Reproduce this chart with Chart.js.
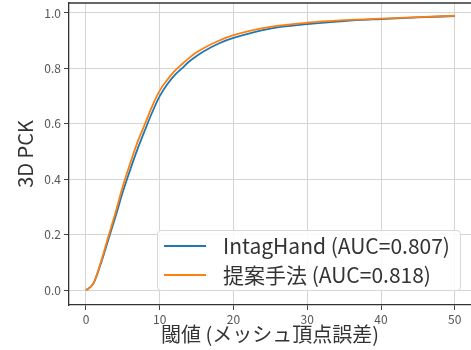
<!DOCTYPE html>
<html>
<head>
<meta charset="utf-8">
<script src="https://cdn.jsdelivr.net/npm/chart.js@4/dist/chart.umd.min.js"></script>
<style>
  html, body { margin: 0; padding: 0; background: #fff; }
  #wrap { position: relative; width: 471px; height: 350px; }
  #legend {
    position: absolute; left: 157px; top: 230px; width: 304px; height: 61px;
    box-sizing: border-box; border: 1px solid #d8d8d8; border-radius: 4px;
    background: rgba(255,255,255,0.85);
    font-family: "Noto Sans CJK JP", "Noto Sans", sans-serif; font-size: 21px; color: #333;
  }
  .row { position: absolute; left: 0; height: 28px; line-height: 28px; white-space: nowrap; }
  .swatch { position: absolute; left: 6px; top: 13px; width: 42px; height: 2px; }
  .label { position: absolute; left: 65px; top: -1px; }
</style>
</head>
<body>
<div id="wrap">
  <canvas id="pckChart" width="471" height="350"></canvas>
  <div id="legend"></div>
</div>
<script>
// x values (threshold) and PCK readings for each method
const thresholds = [0, 1, 2, 3, 4, 5, 6, 7, 8, 9, 10, 11, 12, 13, 14, 15, 16, 18, 20, 25, 30, 35, 40, 45, 50];
const intagHandPck = [0, 0.024, 0.095, 0.18, 0.265, 0.355, 0.435, 0.51, 0.578, 0.643, 0.70, 0.742, 0.775, 0.80, 0.825, 0.845, 0.862, 0.89, 0.91, 0.944, 0.96, 0.971, 0.978, 0.984, 0.989];
const proposedPck = [0, 0.025, 0.10, 0.19, 0.28, 0.375, 0.458, 0.535, 0.60, 0.665, 0.72, 0.758, 0.79, 0.815, 0.838, 0.858, 0.874, 0.90, 0.92, 0.95, 0.965, 0.974, 0.98, 0.985, 0.99];
const seriesLabels = ['IntagHand (AUC=0.807)', '提案手法 (AUC=0.818)'];
const seriesColors = ['#1f77b4', '#ff7f0e'];

const ctx = document.getElementById('pckChart').getContext('2d');
const font = "'Noto Sans CJK JP', 'Noto Sans', sans-serif";

function toPoints(ys) {
  return thresholds.map((x, i) => ({ x: x, y: ys[i] }));
}

// top spine, chart.js only draws the axis side borders
const topSpine = {
  id: 'topSpine',
  afterDraw(chart) {
    const a = chart.chartArea;
    const c = chart.ctx;
    c.save();
    c.strokeStyle = '#333';
    c.lineWidth = 1.3;
    c.beginPath();
    c.moveTo(a.left, a.top);
    c.lineTo(a.right, a.top);
    c.stroke();
    c.restore();
  }
};

const chart = new Chart(ctx, {
  type: 'line',
  data: {
    datasets: [
      { label: seriesLabels[0], data: toPoints(intagHandPck), borderColor: seriesColors[0], order: 1 },
      { label: seriesLabels[1], data: toPoints(proposedPck), borderColor: seriesColors[1], order: 0 },
    ],
  },
  options: {
    responsive: false,
    animation: false,
    layout: { padding: { top: 3, right: 0, left: 0, bottom: 0 } },
    elements: {
      point: { radius: 0 },
      line: { borderWidth: 1.8, cubicInterpolationMode: 'monotone', fill: false },
    },
    plugins: {
      legend: { display: false },
      tooltip: { enabled: false },
    },
    scales: {
      x: {
        type: 'linear',
        min: -2.3,
        max: 52.2,
        afterFit(s) { s.height = 45; s.paddingLeft = 0; s.paddingRight = 0; },
        ticks: { stepSize: 10, includeBounds: false, padding: 2, color: '#555', font: { family: font, size: 12 } },
        grid: { color: '#d4d4d4', lineWidth: 1, tickLength: 5, tickColor: '#444' },
        border: { color: '#333', width: 1.3 },
        title: { display: true, text: '閾値 (メッシュ頂点誤差)', color: '#333', font: { family: font, size: 20 }, padding: { top: 0, bottom: 4 } },
      },
      y: {
        min: -0.053,
        max: 1.036,
        afterFit(s) { s.width = 69; s.paddingTop = 0; s.paddingBottom = 0; },
        ticks: {
          stepSize: 0.2, includeBounds: false, padding: 3, color: '#555', font: { family: font, size: 12 },
          callback: (v) => v.toFixed(1),
        },
        grid: { color: '#d4d4d4', lineWidth: 1, tickLength: 5, tickColor: '#444' },
        border: { color: '#333', width: 1.3 },
        title: { display: true, text: '3D PCK', color: '#333', font: { family: font, size: 20 }, padding: { top: 13, bottom: 0 } },
      },
    },
  },
  plugins: [topSpine],
});

// legend box drawn inside the plot, like matplotlib's lower right legend
const legendEl = document.getElementById('legend');
chart.data.datasets.forEach((ds, i) => {
  const row = document.createElement('div');
  row.className = 'row';
  row.style.top = (i * 29 + 1) + 'px';
  row.innerHTML = '<span class="swatch" style="background:' + ds.borderColor + '"></span><span class="label"></span>';
  row.querySelector('.label').textContent = ds.label;
  legendEl.appendChild(row);
});
</script>
</body>
</html>
